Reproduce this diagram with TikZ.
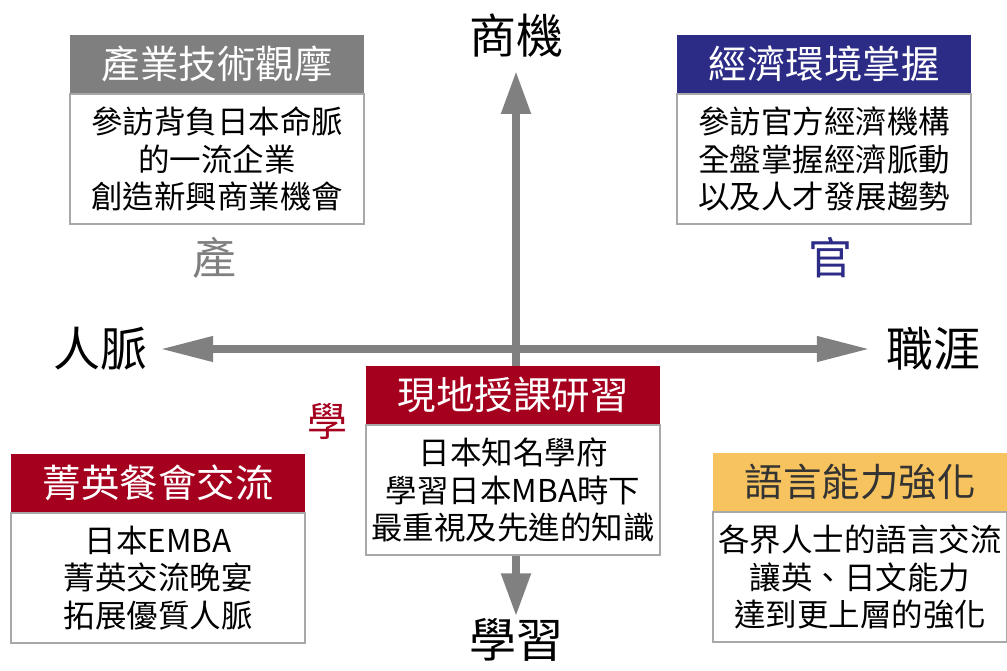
\documentclass[tikz,border=0pt]{standalone}
\usepackage{fontspec}
\setmainfont{Noto Sans CJK TC}
\usetikzlibrary{arrows.meta}

\definecolor{axisgray}{HTML}{808080}
\definecolor{framegray}{HTML}{A8A8A8}
\definecolor{changray}{HTML}{7F7F7F}
\definecolor{guannavy}{HTML}{2C2B85}
\definecolor{xuered}{HTML}{A6001F}
\definecolor{yuyellow}{HTML}{F7C35F}

\begin{document}
\begin{tikzpicture}[x=1pt,y=-1pt,
  axis/.style={draw=axisgray, line width=7.5pt},
  vtip/.style={-{Triangle[length=43pt,width=28pt]}},
  head/.style={anchor=north, minimum width=294pt, minimum height=58pt,
    inner sep=0pt, font=\fontsize{38.5}{40}\selectfont},
  body/.style={anchor=north, draw=framegray, line width=1.3pt, fill=white,
    minimum width=294pt, minimum height=130pt, align=center, inner sep=0pt,
    font=\fontsize{31.5}{37.5}\selectfont},
  axislabel/.style={inner sep=0pt, font=\fontsize{47}{50}\selectfont},
  corner/.style={inner sep=0pt, font=\fontsize{44}{46}\selectfont}
]
  \useasboundingbox (0,0) rectangle (1007,670);

  % Axis labels
  \node[axislabel] (shang)  at (516,36)  {商機};
  \node[axislabel] (xuexi)  at (516,640) {學習};
  \node[axislabel] (renmai) at (100,349) {人脈};
  \node[axislabel] (zhiya)  at (933,349) {職涯};

  % Corner labels
  \node[corner, text=changray] (chan) at (214,258) {產};
  \node[corner, text=guannavy] (guan) at (830,258) {官};
  \node[corner, text=xuered, font=\fontsize{40}{42}\selectfont] (xue) at (327,421) {學};

  % Top left
  \node[head, fill=changray, text=white] (chanye-h) at (217,35) {產業技術觀摩};
  \node[body] (chanye-b) at (chanye-h.south) {參訪背負日本命脈\\的一流企業\\創造新興商業機會};

  % Top right
  \node[head, fill=guannavy, text=white] (jingji-h) at (824,35) {經濟環境掌握};
  \node[body] (jingji-b) at (jingji-h.south) {參訪官方經濟機構\\全盤掌握經濟脈動\\以及人才發展趨勢};

  % Bottom left
  \node[head, fill=xuered, text=white] (jingying-h) at (158,454) {菁英餐會交流};
  \node[body] (jingying-b) at (jingying-h.south) {日本EMBA\\菁英交流晚宴\\拓展優質人脈};

  % Bottom right
  \node[head, fill=yuyellow, text=black!80] (yuyan-h) at (860,453) {語言能力強化};
  \node[body] (yuyan-b) at (yuyan-h.south) {各界人士的語言交流\\讓英、日文能力\\達到更上層的強化};

  % Axes
  \draw[axis, {Triangle[length=53pt,width=24pt]}-{Triangle[length=53pt,width=24pt]},
        shorten <=13pt, shorten >=16pt] (renmai.east) -- (zhiya.west);
  \draw[axis, line width=8pt, vtip, shorten >=13pt] (516,366) -- (shang.south);

  % Center
  \node[head, fill=xuered, text=white] (yanxi-h) at (513,366) {現地授課研習};
  \node[body] (yanxi-b) at (yanxi-h.south) {日本知名學府\\學習日本MBA時下\\最重視及先進的知識};

  \draw[axis, line width=8pt, vtip, shorten >=2pt] (yanxi-b.south -| shang.south) -- (xuexi.north);
\end{tikzpicture}
\end{document}
